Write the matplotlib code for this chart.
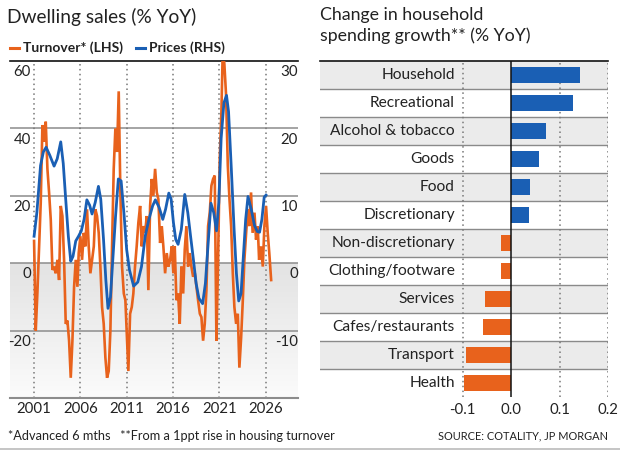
import numpy as np
import matplotlib
matplotlib.use("Agg")
import matplotlib.pyplot as plt
from matplotlib.colors import LinearSegmentedColormap

plt.rcParams['font.family'] = ['Lato', 'DejaVu Sans']

# ---------------- data: left chart ----------------
turnover_years = [2001.0, 2001.18, 2001.36, 2001.54, 2001.72, 2001.9, 2002.08, 2002.26, 2002.44, 2002.62,
                  2002.8, 2002.98, 2003.16, 2003.34, 2003.52, 2003.7, 2003.88, 2004.06, 2004.24, 2004.42,
                  2004.6, 2004.78, 2004.96, 2005.14, 2005.32, 2005.5, 2005.68, 2005.82, 2006.0, 2006.18,
                  2006.37, 2006.54, 2006.72, 2006.9, 2007.08, 2007.26, 2007.45, 2007.62, 2007.8, 2007.98,
                  2008.16, 2008.34, 2008.52, 2008.7, 2008.88, 2009.06, 2009.24, 2009.42, 2009.6, 2009.78,
                  2009.96, 2010.14, 2010.32, 2010.5, 2010.69, 2010.86, 2011.0, 2011.18, 2011.37, 2011.55,
                  2011.72, 2011.9, 2012.08, 2012.26, 2012.45, 2012.63, 2012.8, 2012.99, 2013.17, 2013.34,
                  2013.53, 2013.71, 2013.88, 2014.07, 2014.25, 2014.42, 2014.61, 2014.79, 2014.96, 2015.15,
                  2015.33, 2015.5, 2015.69, 2015.87, 2016.04, 2016.19, 2016.37, 2016.55, 2016.73, 2016.91,
                  2017.1, 2017.27, 2017.45, 2017.63, 2017.81, 2017.99, 2018.17, 2018.36, 2018.53, 2018.71,
                  2018.9, 2019.07, 2019.25, 2019.43, 2019.61, 2019.79, 2019.97, 2020.15, 2020.33, 2020.51,
                  2020.69, 2020.87, 2021.05, 2021.23, 2021.38, 2021.55, 2021.73, 2021.92, 2022.1, 2022.28,
                  2022.46, 2022.63, 2022.82, 2023.0, 2023.17, 2023.36, 2023.54, 2023.71, 2023.9, 2024.08,
                  2024.25, 2024.43, 2024.6, 2024.8, 2024.97, 2025.15, 2025.3, 2025.5, 2025.7, 2025.87,
                  2026.05, 2026.23, 2026.4, 2026.6]
turnover_values = [6.6, -20, -8.6, 5, 18, 41, 36, 42, 28, 21,
                   13, -2, -1, -3, 1, -5, 17, 14, 1, -18,
                   -17, -23, -34, -23, -7, 1, -7, 3, 8, 1,
                   9, 5, 16, 5, -3, 1, 5, 16, 14, 9,
                   -1, -13, -18, -28, -34, -32, -20, 5, 28, 40,
                   33, 51, 21, -1, -9, -11, -20, -32, -15, -13,
                   -9, -1, 5, 12, 17, 5, 11, 9, 14, -8,
                   17, 25, 20, 28, 21, 19, 6, 11, 5, -3,
                   3, -1, 1, 5, -3, 5, -11, -9, -18, -1,
                   -9, 4, 11, -1, 3, -1, -4, -3, -7, -11,
                   -15, -16, -23, -18, -8, 11, 15, 23, 25, 26,
                   -23, 1, 31, 45, 64, 59, 50, 29, 19, 11,
                   -3, -13, -18, -15, -31, -22, -11, 1, 9, 16,
                   11, 21, 9, 15, 7, 11, 1, 5, -1, 11,
                   17, 9, 3, -5]

price_years = [2001.0, 2001.3, 2001.7, 2002.0, 2002.3, 2002.7, 2003.16, 2003.5, 2003.88, 2004.15,
               2004.42, 2004.7, 2004.96, 2005.2, 2005.5, 2005.8, 2006.1, 2006.4, 2006.7, 2007.0,
               2007.26, 2007.6, 2007.95, 2008.2, 2008.5, 2008.75, 2008.98, 2009.25, 2009.5, 2009.8,
               2010.1, 2010.4, 2010.7, 2011.0, 2011.3, 2011.75, 2012.2, 2012.6, 2013.0, 2013.4,
               2013.8, 2014.1, 2014.5, 2014.9, 2015.2, 2015.55, 2015.8, 2016.05, 2016.3, 2016.55,
               2016.9, 2017.27, 2017.6, 2017.9, 2018.2, 2018.5, 2018.8, 2019.2, 2019.5, 2019.8,
               2020.1, 2020.4, 2020.7, 2020.95, 2021.2, 2021.5, 2021.78, 2022.0, 2022.3, 2022.6,
               2022.85, 2023.1, 2023.35, 2023.6, 2023.85, 2024.1, 2024.45, 2024.8, 2025.1, 2025.35,
               2025.6, 2025.85, 2026.05]
price_values = [4.0, 7.5, 14.5, 16.5, 17.2, 16.0, 14.4, 15.5, 18.0, 14.8,
                9.4, 4.0, 0.3, 1.0, 3.3, 4.0, 4.8, 6.5, 9.4, 8.6,
                7.3, 9.0, 11.4, 9.5, 3.5, -2.5, -6.7, -5.0, 0.5, 7.0,
                12.5, 12.2, 7.5, 2.0, -1.0, -3.4, -2.8, -0.5, 4.0, 6.5,
                8.5, 9.4, 8.3, 6.5, 8.0, 10.4, 9.5, 6.0, 3.5, 2.8,
                5.0, 10.2, 7.5, 4.0, 0.6, -3.0, -5.2, -6.0, -3.0, 3.0,
                8.9, 7.5, 4.8, 9.0, 18.5, 23.8, 24.9, 22.5, 14.0, 5.0,
                -1.5, -5.6, -4.5, 1.0, 6.5, 9.9, 8.0, 5.6, 4.7, 4.6,
                6.5, 9.8, 10.1]

lhs_ticks = [60, 40, 20, 0, -20]
rhs_ticks = [30, 20, 10, 0, -10]
year_ticks = [2001, 2006, 2011, 2016, 2021, 2026]

# ---------------- data: right chart ----------------
categories = ["Household", "Recreational", "Alcohol & tobacco", "Goods", "Food", "Discretionary",
              "Non-discretionary", "Clothing/footware", "Services", "Cafes/restaurants", "Transport", "Health"]
spend_values = [0.142, 0.128, 0.072, 0.058, 0.040, 0.037,
                -0.021, -0.021, -0.053, -0.057, -0.092, -0.097]
bar_ticks = [-0.1, 0.0, 0.1, 0.2]

ORANGE = '#e8621c'
BLUE = '#1a5fb4'
W, H = 620, 450

fig = plt.figure(figsize=(6.2, 4.5), dpi=100)

def fx(px):
    return px / W

def fy(py):
    return 1 - py / H

# ---------------- left chart ----------------
L0, L1, T0, B0 = 10, 298, 61, 398
ax1 = fig.add_axes([fx(L0), fy(B0), fx(L1 - L0), fy(T0) - fy(B0)])
ax1.set_xlim(1998.4, 2029.5)
ax1.set_ylim(-40, 60)

# gradient shading below zero
cmap = LinearSegmentedColormap.from_list('g', ['#e3e3e3', '#fbfbfb'])
grad = np.linspace(0, 1, 100).reshape(-1, 1)
ax1.imshow(grad, extent=[1998.4, 2029.5, -40, 0], aspect='auto', cmap=cmap, zorder=0, origin='upper')

for v in [40, 20, 0, -20]:
    ax1.axhline(v, color='#8c8c8c', lw=1.1, zorder=1)
for yr in year_ticks:
    ax1.axvline(yr, color='#777777', lw=1.1, ls=(0, (1, 2.2)), zorder=1)

ax1.plot(turnover_years, turnover_values, color=ORANGE, lw=1.9, zorder=3, solid_joinstyle='miter')

ax2 = ax1.twinx()
ax2.set_ylim(-20, 30)
ax2.plot(price_years, price_values, color=BLUE, lw=2.0, zorder=4)

for a in (ax1, ax2):
    a.set_yticks([])
    for s in a.spines.values():
        s.set_visible(False)
ax1.set_xticks(year_ticks)
ax1.set_xticklabels([str(y) for y in year_ticks], fontsize=10.8, color='#222222')
ax1.tick_params(axis='x', length=0, pad=3)
ax1.spines['top'].set_visible(True)
ax1.spines['top'].set_color('#111111')
ax1.spines['top'].set_linewidth(1.2)
ax1.spines['bottom'].set_visible(True)
ax1.spines['bottom'].set_color('#8c8c8c')
ax1.spines['bottom'].set_linewidth(1.5)

for v in lhs_ticks:
    ax1.annotate(str(v), xy=(0, v), xycoords=('axes fraction', 'data'), xytext=(15, -8),
                 textcoords='offset points', ha='right', va='center', fontsize=10.8, color='#222222')
for v in rhs_ticks:
    ax2.annotate(str(v), xy=(1, v), xycoords=('axes fraction', 'data'), xytext=(0, -8),
                 textcoords='offset points', ha='right', va='center', fontsize=10.8, color='#222222')

# titles / legend
fig.text(fx(7), fy(17), "Dwelling sales (% YoY)", fontsize=13.8, ha='left', va='center', color='#222222')
fig.add_artist(plt.Line2D([fx(10), fx(19)], [fy(47.5), fy(47.5)], color=ORANGE, lw=2.2))
fig.text(fx(23), fy(47.5), "Turnover* (LHS)", fontsize=10.0, fontweight='bold', ha='left', va='center', color='#222222')
fig.add_artist(plt.Line2D([fx(136), fx(145)], [fy(47.5), fy(47.5)], color=BLUE, lw=2.2))
fig.text(fx(149), fy(47.5), "Prices (RHS)", fontsize=10.0, fontweight='bold', ha='left', va='center', color='#222222')

# ---------------- right chart ----------------
R0, R1 = 320, 608
ax3 = fig.add_axes([fx(R0), fy(397), fx(R1 - R0), fy(T0) - fy(397)])
ax3.set_xlim(-0.394, 0.2)
n = len(categories)
ax3.set_ylim(n - 0.5, -0.5)
pos = np.arange(n)
for i in pos:
    if i % 2 == 0:
        ax3.axhspan(i - 0.5, i + 0.5, color='#ebebeb', zorder=0, lw=0)
    if i > 0:
        ax3.axhline(i - 0.5, color='#8a8a8a', lw=1.0, zorder=1)
for v in bar_ticks:
    if v != 0:
        ax3.axvline(v, color='#777777', lw=1.1, ls=(0, (1, 2.2)), zorder=1)
colors = [BLUE if v >= 0 else ORANGE for v in spend_values]
ax3.barh(pos, spend_values, height=0.54, color=colors, zorder=2)
ax3.axvline(0, color='#111111', lw=1.1, zorder=3)
for i, c in zip(pos, categories):
    ax3.text(-0.116, i, c, ha='right', va='center', fontsize=11.2, color='#222222', zorder=4)
ax3.set_yticks([])
ax3.set_xticks(bar_ticks)
ax3.set_xticklabels(['-0.1', '0.0', '0.1', '0.2'], fontsize=10.8, color='#222222')
ax3.tick_params(axis='x', length=0, pad=4)
for k, s in ax3.spines.items():
    s.set_visible(False)
ax3.spines['top'].set_visible(True)
ax3.spines['top'].set_color('#111111')
ax3.spines['top'].set_linewidth(1.2)

fig.text(fx(320), fy(15), "Change in household", fontsize=12.8, ha='left', va='center', color='#222222')
fig.text(fx(320), fy(36), "spending growth** (% YoY)", fontsize=12.8, ha='left', va='center', color='#222222')

# footer
fig.text(fx(8), fy(436), "*Advanced 6 mths   **From a 1ppt rise in housing turnover", fontsize=9.2,
         ha='left', va='center', color='#222222')
fig.text(fx(608), fy(436), "SOURCE: COTALITY, JP MORGAN", fontsize=7.9, ha='right', va='center', color='#222222')
fig.add_artist(plt.Line2D([0, 1], [fy(449), fy(449)], color='#bbbbbb', lw=1.2))

fig.savefig('out.png', dpi=100)
